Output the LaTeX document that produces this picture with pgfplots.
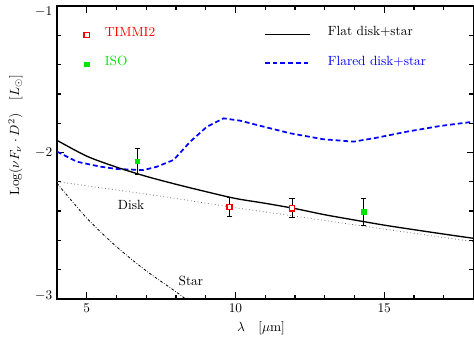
\documentclass[border=0pt]{standalone}
\usepackage{fontspec}
\usepackage{pgfplots}
\pgfplotsset{compat=1.18}
\definecolor{pgreen}{RGB}{0,230,0}
\begin{document}
\begin{tikzpicture}
\begin{axis}[
  scale only axis, width=312.4pt, height=219.75pt,
  xmin=4, xmax=18, ymin=-3, ymax=-1,
  xtick={5,10,15}, ytick={-3,-2,-1},
  yticklabels={\raisebox{-0.3pt}[0pt][0pt]{$-3$},\raisebox{-3.2pt}[0pt][0pt]{$-2$},\raisebox{-7.3pt}[0pt][0pt]{$-1$}},
  minor x tick num=4, minor y tick num=4,
  tick align=inside, tick pos=both,
  major tick length=5pt, minor tick length=3.2pt,
  axis line style={line width=1.2pt},
  tick style={black, line width=1pt},
  xlabel={$\lambda\quad[\mu\mathrm{m}]$},
  ylabel={$\mathrm{Log}(\nu F_\nu \cdot D^2)\quad[L_\odot]$},
  xlabel style={at={(axis description cs:0.49,-0.1)}, anchor=center},
  ylabel style={at={(axis description cs:-0.1,0.56)}, anchor=center},
  clip=false,
]
% explicit tick marks on all four sides
\pgfplotsinvokeforeach{5,10,15}{
  \draw[line width=1pt] (axis cs:#1,-3) -- ++(0pt,5pt);
  \draw[line width=1pt] (axis cs:#1,-1) -- ++(0pt,-5pt);
}
\pgfplotsinvokeforeach{6,7,8,9,11,12,13,14,16,17}{
  \draw[line width=1pt] (axis cs:#1,-3) -- ++(0pt,3.2pt);
  \draw[line width=1pt] (axis cs:#1,-1) -- ++(0pt,-3.2pt);
}
\pgfplotsinvokeforeach{-2}{
  \draw[line width=1pt] (axis cs:4,#1) -- ++(5pt,0pt);
  \draw[line width=1pt] (axis cs:18,#1) -- ++(-5pt,0pt);
}
\pgfplotsinvokeforeach{-2.8,-2.6,-2.4,-2.2,-1.8,-1.6,-1.4,-1.2}{
  \draw[line width=1pt] (axis cs:4,#1) -- ++(3.2pt,0pt);
  \draw[line width=1pt] (axis cs:18,#1) -- ++(-3.2pt,0pt);
}
% Flared disk+star
\addplot[blue, line width=1.3pt, dash pattern=on 3.6pt off 2.2pt] coordinates {
(4,-1.994)(4.67,-2.063)(5.46,-2.097)(6.02,-2.113)(6.91,-2.12)(7.36,-2.097)(7.92,-2.051)
(8.48,-1.926)(9.04,-1.824)(9.60,-1.767)(10.16,-1.783)(10.95,-1.824)(11.84,-1.869)
(12.96,-1.91)(13.97,-1.926)(14.65,-1.903)(15.76,-1.858)(16.88,-1.819)(18.0,-1.79)};
% Flat disk+star
\addplot[black, line width=1pt, smooth] coordinates {
(4,-1.917)(5,-2.025)(6,-2.10)(7,-2.163)(8,-2.217)(9,-2.267)(10,-2.314)(11,-2.347)
(12,-2.383)(13,-2.425)(14,-2.461)(15,-2.496)(16,-2.527)(17,-2.557)(18,-2.586)};
% Disk
\addplot[black!55, line width=0.6pt, dotted] coordinates {
(4,-2.199)(7.45,-2.297)(10.13,-2.381)(11.87,-2.431)(14.27,-2.502)(18,-2.609)};
% Star
\addplot[black, line width=0.6pt, dash pattern=on 2pt off 1.3pt on 0.5pt off 1.3pt, smooth] coordinates {
(4,-2.21)(5,-2.448)(6,-2.643)(7,-2.808)(8,-2.951)(8.32,-3.0)};
% TIMMI2 data
\addplot[only marks, mark=square*, mark size=1.9pt, mark options={draw=red, fill=white, line width=1.1pt},
  error bars/.cd, y dir=both, y explicit,
  error bar style={black, line width=0.7pt},
  error mark options={black, mark size=2pt, line width=0.7pt, rotate=90}]
  coordinates {(9.805,-2.372) +- (0,0.063) (11.90,-2.381) +- (0,0.064)};
% ISO data
\addplot[only marks, mark=square*, mark size=1.7pt, mark options={draw=pgreen, fill=pgreen},
  error bars/.cd, y dir=both, y explicit,
  error bar style={black, line width=0.7pt},
  error mark options={black, mark size=2pt, line width=0.7pt, rotate=90}]
  coordinates {(6.70,-2.060) +- (0,0.088) (14.31,-2.406) +- (0,0.092)};
% legend markers
\addplot[only marks, mark=square*, mark size=1.9pt, mark options={draw=red, fill=white, line width=1.1pt}] coordinates {(5.0,-1.198)};
\addplot[only marks, mark=square*, mark size=1.7pt, mark options={draw=pgreen, fill=pgreen}] coordinates {(5.0,-1.398)};
\node[red, anchor=west, font={\addfontfeature{LetterSpace=12}}] at (axis cs:5.45,-1.178) {TIMMI2};
\node[pgreen, anchor=west, font={\addfontfeature{LetterSpace=12}}] at (axis cs:5.45,-1.378) {ISO};
\addplot[black, line width=1pt] coordinates {(10.99,-1.193)(12.50,-1.193)};
\addplot[blue, line width=1.3pt, dash pattern=on 3.6pt off 2.2pt] coordinates {(10.99,-1.391)(12.50,-1.391)};
\node[black, anchor=west, font={\addfontfeature{LetterSpace=16}}] at (axis cs:12.95,-1.177) {Flat disk+star};
\node[blue, anchor=west, font={\addfontfeature{LetterSpace=16}}] at (axis cs:12.95,-1.375) {Flared disk+star};
\node at (axis cs:6.49,-2.355) {Disk};
\node at (axis cs:8.50,-2.874) {Star};
\end{axis}
\pgfresetboundingbox
\path[use as bounding box] (-42.75pt,-33pt) rectangle (312.8pt,224.25pt);
\end{tikzpicture}
\end{document}
